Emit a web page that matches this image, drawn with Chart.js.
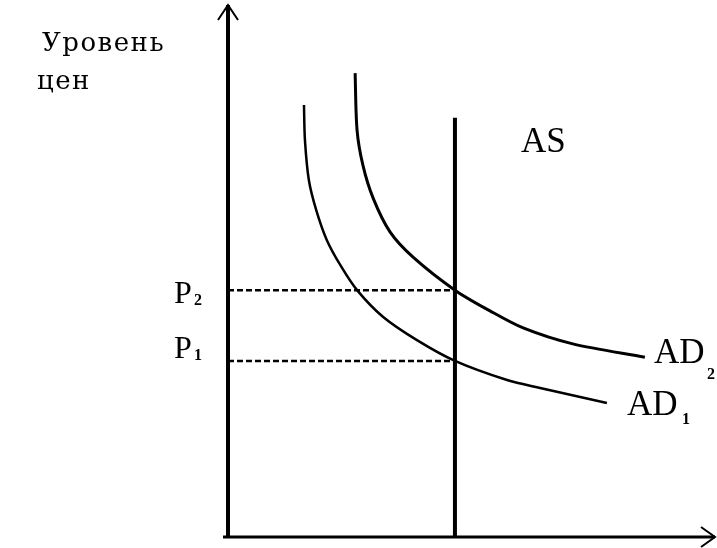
<!DOCTYPE html>
<html>
<head>
<meta charset="utf-8">
<script src="https://cdn.jsdelivr.net/npm/chart.js@4"></script>
<style>
  html, body { margin: 0; padding: 0; background: #fff; }
  #wrap { width: 717px; height: 548px; }
</style>
</head>
<body>
<div id="wrap"><canvas id="chart"></canvas></div>
<script>
// Данные (условные единицы: объём выпуска Q, уровень цен P)
const adQ1 = [15.6, 15.8, 16.6, 18.1, 20.3, 23.2, 26.5, 31.8, 38.8, 46.6, 57.3, 64.1, 77.8];
const adP1 = [81.2, 74.6, 67.1, 61.5, 55.8, 50.9, 46.4, 41.4, 37.0, 33.1, 29.5, 28.0, 25.2];
const adQ2 = [26.1, 26.5, 27.7, 29.8, 33.3, 38.0, 46.6, 53.8, 60.6, 70.8, 85.6];
const adP2 = [87.2, 76.5, 69.9, 63.7, 57.3, 52.6, 46.4, 42.5, 39.3, 36.3, 33.8];
const asQ = 46.6;
const asTop = 78.8;
const priceLevels = [33.1, 46.4];      // P1, P2
const priceLabels = ["P", "P"];
const priceSubs = ["1", "2"];
const curveLabels = ["AD", "AD", "AS"];
const axisTitle = ["Уровень", "цен"];

// Helper: склеить два массива в точки
function pts(xs, ys) {
  return xs.map((x, i) => ({ x: x, y: ys[i] }));
}

const dashed = priceLevels.map(p => ({
  data: [{ x: 0, y: p }, { x: asQ, y: p }],
  borderColor: "#000",
  borderWidth: 2.5,
  borderDash: [6, 3],
  pointRadius: 0,
  showLine: true
}));

// Оси со стрелками и подписи
const decor = {
  id: "decor",
  afterDatasetsDraw(chart) {
    const ctx = chart.ctx;
    const xs = chart.scales.x, ys = chart.scales.y;
    const x0 = xs.getPixelForValue(0), y0 = ys.getPixelForValue(0);
    const xEnd = xs.getPixelForValue(xs.max), yEnd = ys.getPixelForValue(ys.max);
    ctx.save();
    ctx.strokeStyle = "#000";
    ctx.lineCap = "butt";
    // ось Y
    ctx.lineWidth = 4;
    ctx.beginPath(); ctx.moveTo(x0, y0); ctx.lineTo(x0, yEnd); ctx.stroke();
    ctx.lineWidth = 2;
    ctx.beginPath();
    ctx.moveTo(x0 - 10, yEnd + 15); ctx.lineTo(x0, yEnd); ctx.lineTo(x0 + 10, yEnd + 15);
    ctx.stroke();
    // ось X
    ctx.lineWidth = 3;
    ctx.beginPath(); ctx.moveTo(x0 - 5, y0); ctx.lineTo(xEnd, y0); ctx.stroke();
    ctx.lineWidth = 2;
    ctx.beginPath();
    ctx.moveTo(xEnd - 14, y0 - 10); ctx.lineTo(xEnd, y0); ctx.lineTo(xEnd - 14, y0 + 10);
    ctx.stroke();

    ctx.fillStyle = "#000";
    ctx.textBaseline = "alphabetic";
    ctx.textAlign = "left";
    // подпись оси
    ctx.font = "26px 'DejaVu Serif'";
    ctx.letterSpacing = "1.5px";
    ctx.fillText(axisTitle[0], 42, 51);
    ctx.fillText(axisTitle[1], 37, 89);
    ctx.letterSpacing = "0px";
    // P1, P2
    priceLevels.forEach((p, i) => {
      const py = ys.getPixelForValue(p);
      const off = i === 0 ? -3 : 13;
      ctx.font = "32px 'Liberation Serif'";
      ctx.fillText(priceLabels[i], 174, py + off);
      ctx.font = "bold 16px 'Liberation Serif'";
      ctx.fillText(priceSubs[i], 194, py + off + 2);
    });
    // AD1, AD2, AS
    ctx.font = "35px 'Liberation Serif'";
    ctx.fillText(curveLabels[0], 627, 415);
    ctx.fillText(curveLabels[1], 654, 363);
    ctx.fillText(curveLabels[2], 521, 152);
    ctx.font = "bold 16px 'Liberation Serif'";
    ctx.fillText("1", 682, 424);
    ctx.fillText("2", 707, 379);
    ctx.restore();
  }
};

new Chart(document.getElementById("chart"), {
  type: "scatter",
  data: {
    datasets: [
      {
        label: "AD1",
        data: pts(adQ1, adP1),
        borderColor: "#000",
        borderWidth: 2.5,
        pointRadius: 0,
        showLine: true,
        tension: 0.3
      },
      {
        label: "AD2",
        data: pts(adQ2, adP2),
        borderColor: "#000",
        borderWidth: 3,
        pointRadius: 0,
        showLine: true,
        tension: 0.3
      },
      {
        label: "AS",
        data: [{ x: asQ, y: 0 }, { x: asQ, y: asTop }],
        borderColor: "#000",
        borderWidth: 4,
        pointRadius: 0,
        showLine: true
      },
      ...dashed
    ]
  },
  options: {
    responsive: true,
    maintainAspectRatio: false,
    animation: false,
    layout: { padding: { left: 228, right: 2, top: 5, bottom: 11 } },
    plugins: { legend: { display: false }, tooltip: { enabled: false } },
    scales: {
      x: { display: false, min: 0, max: 100 },
      y: { display: false, min: 0, max: 100 }
    }
  },
  plugins: [decor]
});
</script>
</body>
</html>
